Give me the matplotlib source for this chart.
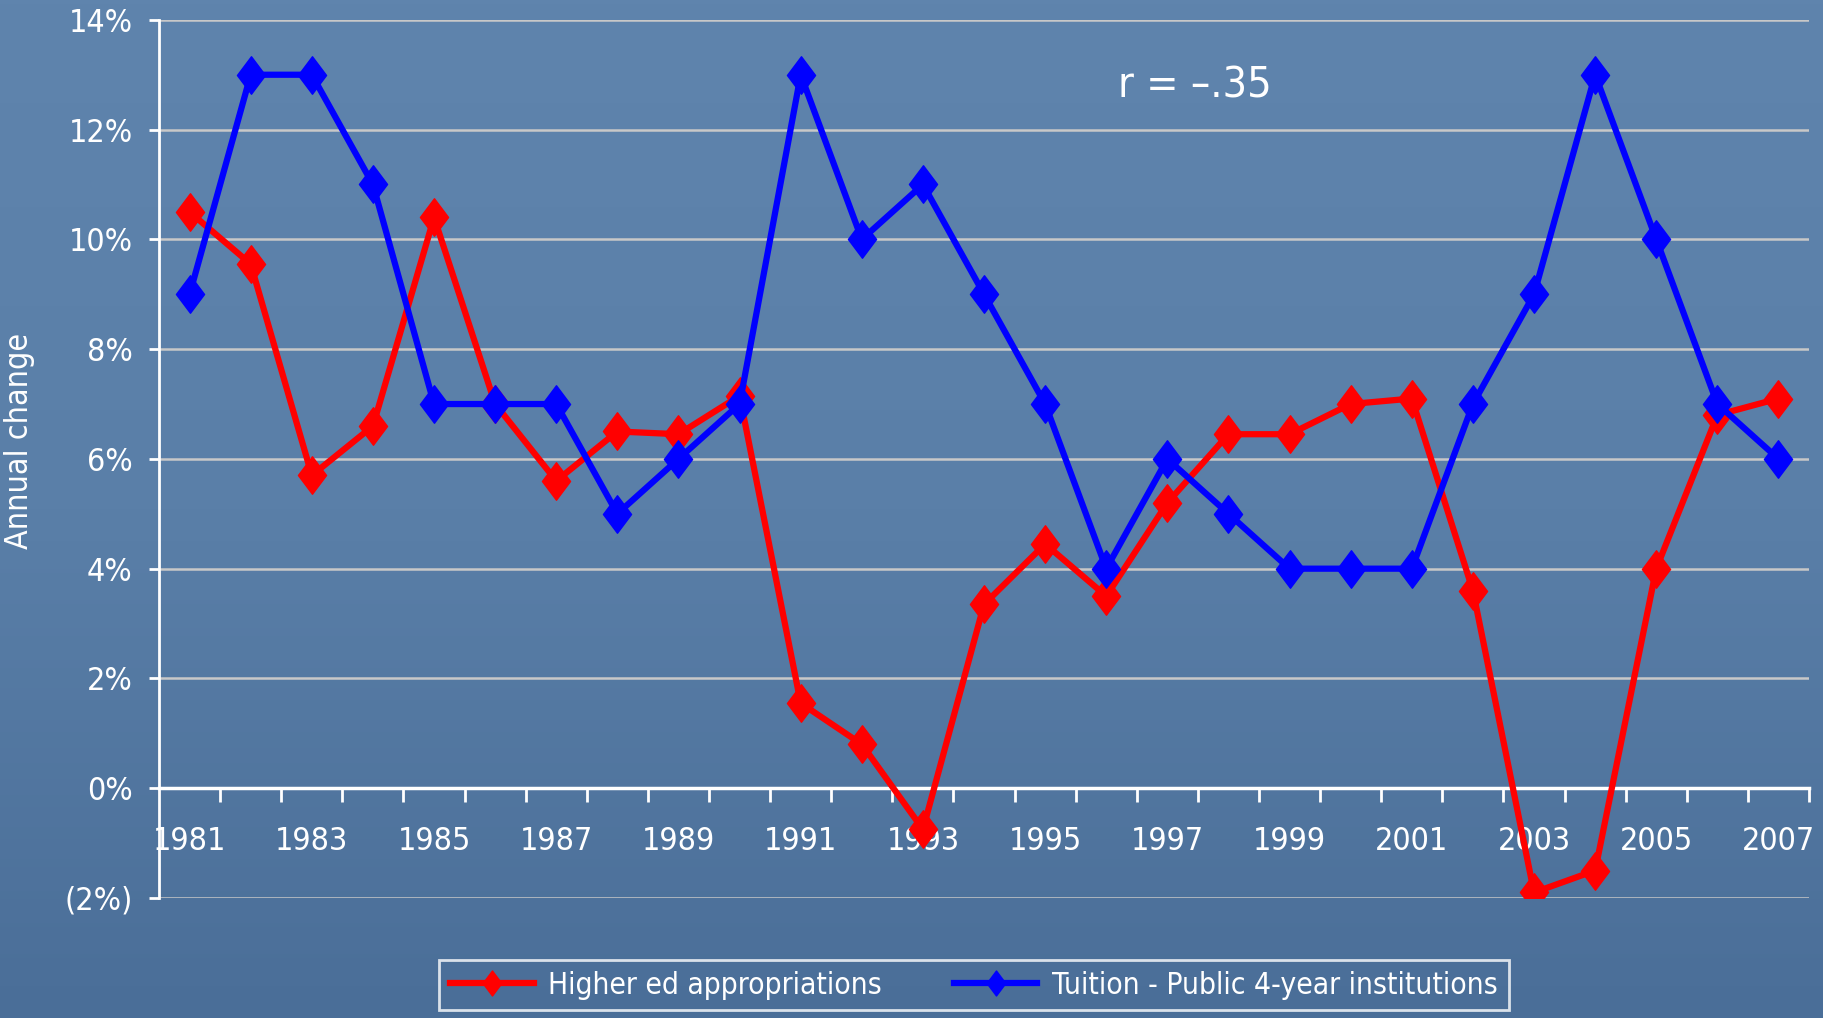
import numpy as np
import matplotlib
matplotlib.use("Agg")
import matplotlib.pyplot as plt
from matplotlib.colors import LinearSegmentedColormap
from matplotlib.path import Path

# data (annual % change)
years = list(range(1981, 2008))
appropriations = [10.5, 9.55, 5.7, 6.6, 10.4, 7.0, 5.6, 6.5, 6.45, 7.15,
                  1.55, 0.8, -0.75, 3.35, 4.45, 3.5, 5.2, 6.45, 6.45, 7.0,
                  7.1, 3.6, -1.9, -1.5, 4.0, 6.8, 7.1]
tuition = [9, 13, 13, 11, 7, 7, 7, 5, 6, 7,
           13, 10, 11, 9, 7, 4, 6, 5, 4, 4,
           4, 7, 9, 13, 10, 7, 6]
year_labels = [str(y) for y in years[::2]]
y_ticks = [-2, 0, 2, 4, 6, 8, 10, 12, 14]
y_labels = ["(2%)", "0%", "2%", "4%", "6%", "8%", "10%", "12%", "14%"]

plt.rcParams["font.family"] = ["DejaVu Sans"]
plt.rcParams["font.stretch"] = "condensed"
plt.rcParams["font.weight"] = "light"
plt.rcParams["text.color"] = "white"

fig = plt.figure(figsize=(18.24, 10.18), dpi=100)

# background gradient
bg = fig.add_axes([0, 0, 1, 1], zorder=-5)
cmap = LinearSegmentedColormap.from_list("bg", ["#5f84ad", "#5a7fa8", "#4a6e98"])
bg.imshow(np.linspace(0, 1, 256).reshape(-1, 1), aspect="auto", cmap=cmap,
          extent=[0, 1, 0, 1])
bg.axis("off")

ax = fig.add_axes([0.0872, 0.1179, 0.9046, 0.8626])
ax.set_facecolor("none")

diamond = Path([(0, 1), (0.75, 0), (0, -1), (-0.75, 0), (0, 1)],
               [Path.MOVETO, Path.LINETO, Path.LINETO, Path.LINETO, Path.CLOSEPOLY])

ax.plot(years, appropriations, color="#ff0000", lw=4.5, marker=diamond,
        markersize=27, label="Higher ed appropriations", zorder=3)
ax.plot(years, tuition, color="#0000ff", lw=4.5, marker=diamond,
        markersize=27, label="Tuition - Public 4-year institutions", zorder=4)

ax.set_xlim(1980.5, 2007.5)
ax.set_ylim(-2, 14)

for v in y_ticks:
    if v != 0:
        ax.axhline(v, color="#c8c8c8", lw=1.8, zorder=1)

for s in ["top", "right"]:
    ax.spines[s].set_visible(False)
ax.spines["left"].set_color("white")
ax.spines["left"].set_linewidth(2)
ax.spines["bottom"].set_position(("data", 0))
ax.spines["bottom"].set_color("white")
ax.spines["bottom"].set_linewidth(2.5)

ax.set_yticks(y_ticks)
ax.set_yticklabels(y_labels, fontsize=23)
ax.tick_params(axis="y", colors="white", length=7, width=2, pad=12)

ax.set_xticks(years[::2])
ax.set_xticklabels(year_labels, fontsize=23)
ax.set_xticks(np.arange(1981.5, 2008, 1), minor=True)
ax.tick_params(axis="x", which="major", length=0, pad=27, colors="white")
ax.tick_params(axis="x", which="minor", length=10, width=2, color="white")

ax.set_ylabel("Annual change", fontsize=23, color="white")
ax.yaxis.set_label_coords(-0.075, 0.52)

ax.text(1996.2, 12.8, "r = \u2013.35", fontsize=31, color="white",
        ha="left", va="center")

leg = fig.legend(loc="center", bbox_to_anchor=(0.534, 0.0324), ncol=2,
                 fontsize=21.5, frameon=True, fancybox=False, handlelength=2.8,
                 columnspacing=2.4, borderpad=0.35, handletextpad=0.5)
leg.get_frame().set_facecolor("none")
leg.get_frame().set_edgecolor("white")
leg.get_frame().set_linewidth(2)
for h in leg.legend_handles:
    h.set_markersize(18)
for t in leg.get_texts():
    t.set_color("white")

fig.savefig("out.png", dpi=100)
